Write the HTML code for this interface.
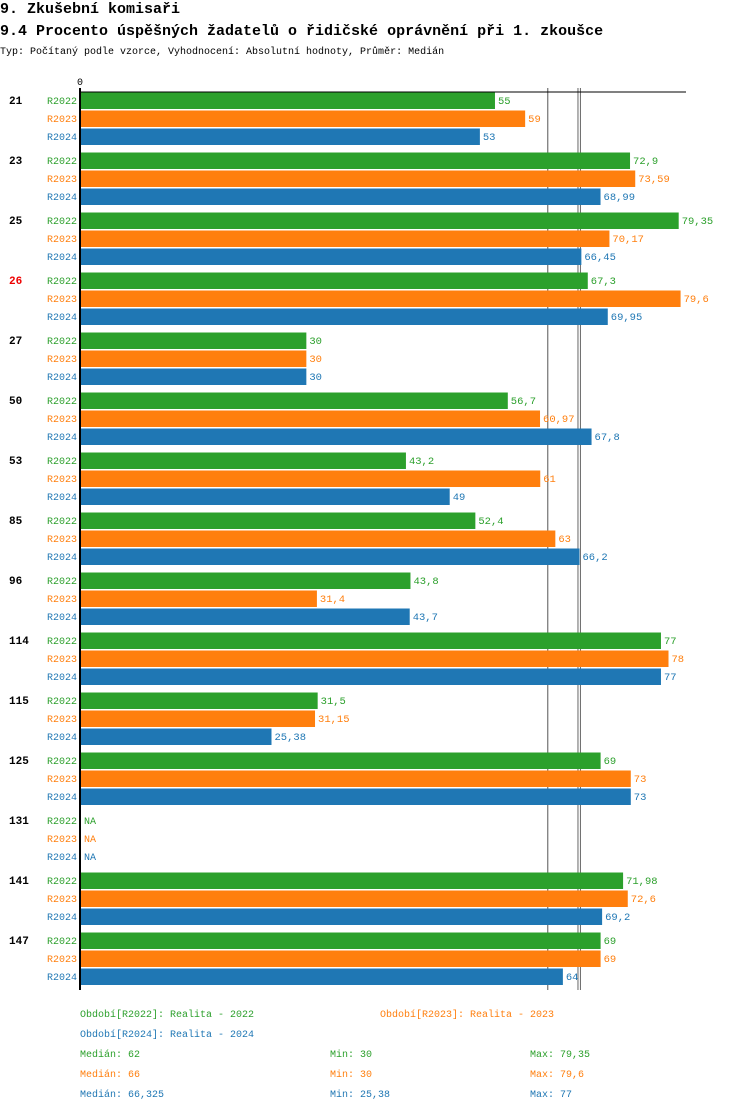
<!DOCTYPE html>
<html><head><meta charset="utf-8"><style>
body{margin:0;background:#fff;width:750px;height:1112px;overflow:hidden;font-family:"Liberation Mono","DejaVu Sans Mono",monospace;}
svg text{font-family:"Liberation Mono","DejaVu Sans Mono",monospace;}
</style></head><body>
<svg id="c" width="750" height="1112" xmlns="http://www.w3.org/2000/svg">
<text x="0" y="13" font-size="15" font-weight="bold">9. Zkušební komisaři</text>
<text x="0" y="35" font-size="15" font-weight="bold">9.4 Procento úspěšných žadatelů o řidičské oprávnění při 1. zkoušce</text>
<text x="0" y="54" font-size="10">Typ: Počítaný podle vzorce, Vyhodnocení: Absolutní hodnoty, Průměr: Medián</text>
<g id="plot"></g>
</svg>
<script>
const categories=["21","23","25","26","27","50","53","85","96","114","115","125","131","141","147"];
const highlighted=["26"];
const series=["R2022","R2023","R2024"];
const v2022=[55,72.9,79.35,67.3,30,56.7,43.2,52.4,43.8,77,31.5,69,null,71.98,69];
const v2023=[59,73.59,70.17,79.6,30,60.97,61,63,31.4,78,31.15,73,null,72.6,69];
const v2024=[53,68.99,66.45,69.95,30,67.8,49,66.2,43.7,77,25.38,73,null,69.2,64];
const medians=[62,66,66.325];
const mins=[30,30,25.38];
const maxs=[79.35,79.6,77];
const colors=["#2ca02c","#ff7f0e","#1f77b4"];
const x0=80,pxPerUnit=7.545,top0=92,groupH=60,rowH=18,barH=16.5;
const xs=v=>x0+v*pxPerUnit;
const fmt=v=>String(v).replace('.',',');
const g=document.getElementById('plot');
const NS="http://www.w3.org/2000/svg";
function mk(tag,attrs,text){const e=document.createElementNS(NS,tag);for(const k in attrs)e.setAttribute(k,attrs[k]);if(text!=null)e.textContent=text;g.appendChild(e);return e;}
const vals=[v2022,v2023,v2024];
const bottom=top0+categories.length*groupH-2;
medians.forEach((m,i)=>{const l=mk('line',{x1:xs(m),x2:xs(m),y1:top0-4,y2:bottom,stroke:i==0?'#555':'#666','stroke-width':1});

});
categories.forEach((c,ci)=>{
  const top=top0+ci*groupH;
  const t=mk('text',{x:9,y:top+12,'font-size':11,'font-weight':'bold',fill:highlighted.includes(c)?'#e00':'#000'},c);
  
  
  series.forEach((s,si)=>{
    const y=top+si*rowH;
    const lab=mk('text',{x:77,y:y+12,'font-size':10,'text-anchor':'end',fill:colors[si]},s);
    
    
    const v=vals[si][ci];
    if(v==null){const na=mk('text',{x:84,y:y+12,'font-size':10,fill:colors[si]},'NA');
      
      return;}
    const r=mk('rect',{x:x0,y:y+0.5,width:xs(v)-x0,height:barH,fill:colors[si]});
    
    
    const vt=mk('text',{x:xs(v)+3,y:y+12,'font-size':10.5,fill:colors[si]},fmt(v));
    
    
  });
});
const ax=mk('line',{x1:x0,x2:x0,y1:top0-4,y2:bottom,stroke:'#000','stroke-width':2});


const tx=mk('line',{x1:x0-1,x2:686,y1:top0,y2:top0,stroke:'#000','stroke-width':1});


const zt=mk('text',{x:x0,y:85,'font-size':10,'text-anchor':'middle'},'0');


const legendTxt=["Období[R2022]: Realita - 2022","Období[R2023]: Realita - 2023","Období[R2024]: Realita - 2024"];
const legPos=[[80,1017],[380,1017],[80,1037]];
legendTxt.forEach((t,i)=>{const e=mk('text',{x:legPos[i][0],y:legPos[i][1],'font-size':10,fill:colors[i]},t);
  
  });
series.forEach((s,i)=>{const y=1057+i*20;
  const a=mk('text',{x:80,y:y,'font-size':10,fill:colors[i]},'Medián: '+fmt(medians[i]));
  
  
  const b=mk('text',{x:330,y:y,'font-size':10,fill:colors[i]},'Min: '+fmt(mins[i]));
  
  
  const d=mk('text',{x:530,y:y,'font-size':10,fill:colors[i]},'Max: '+fmt(maxs[i]));
  
  
});
</script>
</body></html>
